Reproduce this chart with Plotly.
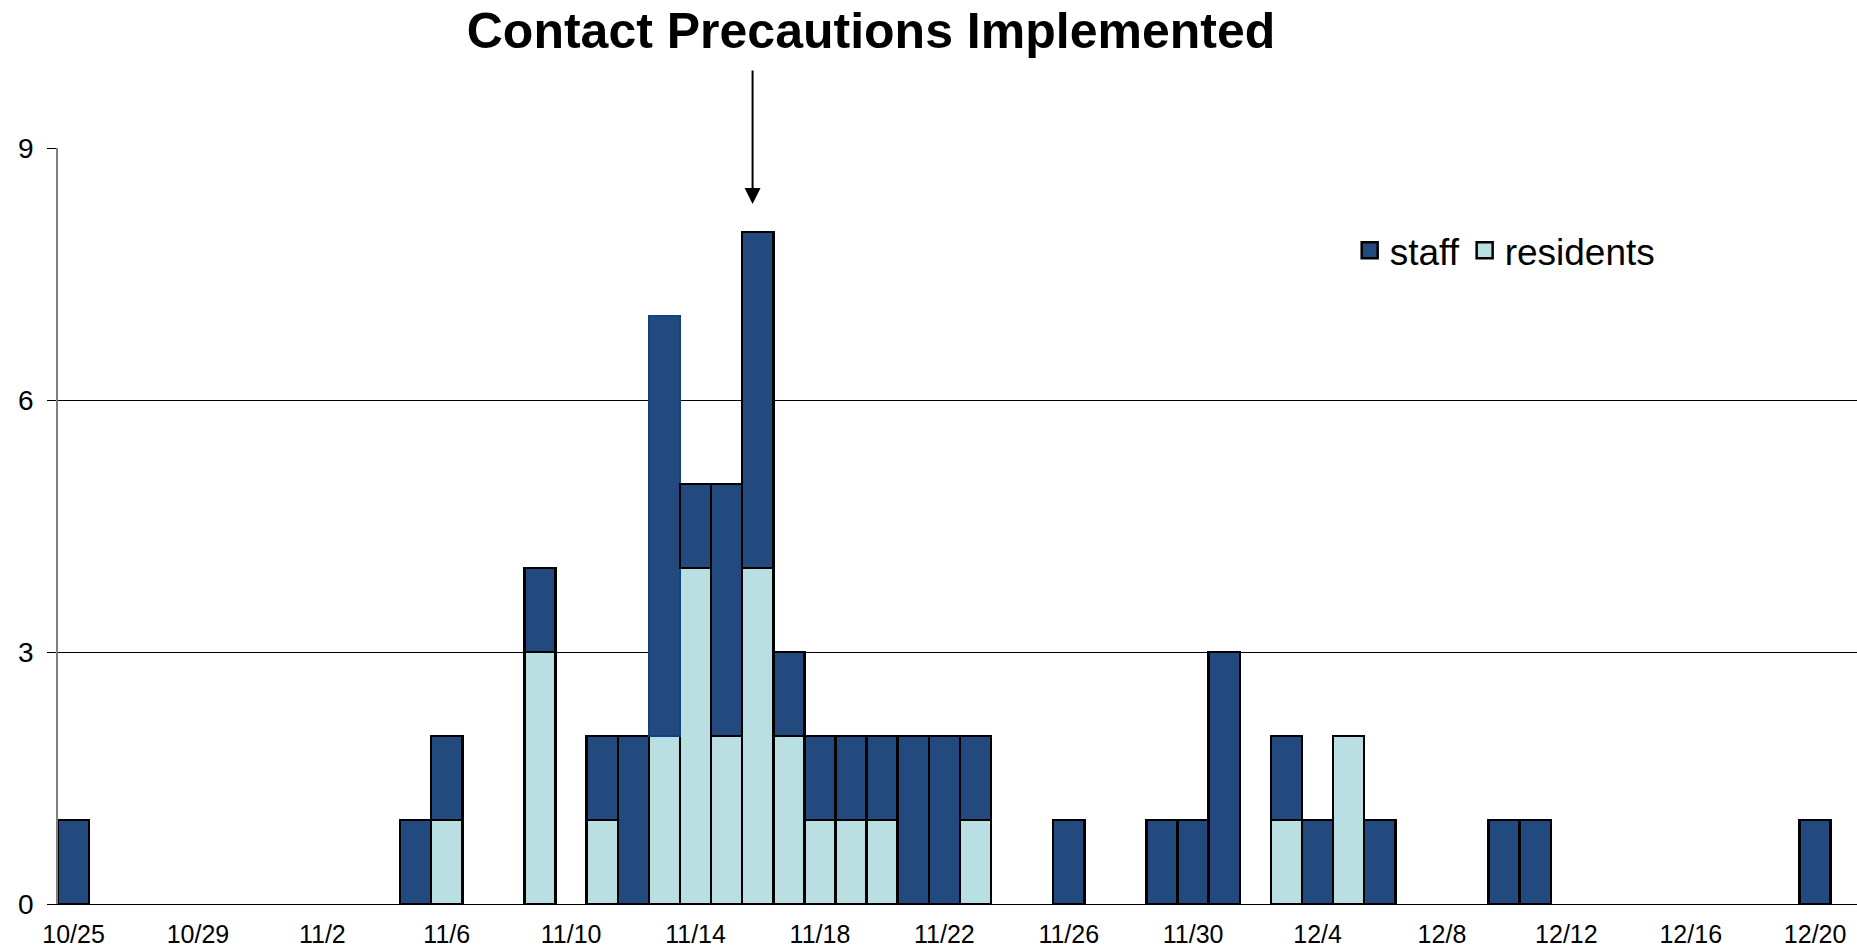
import pandas as pd
import plotly.graph_objects as go

# ---- data ----
dates = ["10/25", "11/5", "11/6", "11/9", "11/11", "11/12", "11/13", "11/14",
         "11/15", "11/16", "11/17", "11/18", "11/19", "11/20", "11/21", "11/22",
         "11/23", "11/26", "11/29", "11/30", "12/1", "12/3", "12/4", "12/5",
         "12/6", "12/10", "12/11", "12/20"]
residents = [0, 0, 1, 3, 1, 0, 2, 4, 2, 4, 2, 1, 1, 1, 0, 0, 1, 0, 0, 0, 0,
             1, 0, 2, 0, 0, 0, 0]
staff = [1, 1, 1, 1, 1, 2, 5, 1, 3, 4, 1, 1, 1, 1, 2, 2, 1, 1, 1, 1, 3,
         1, 1, 0, 1, 1, 1, 1]
y_ticks = [0, 3, 6, 9]
title_text = "Contact Precautions Implemented"
precaution_day = "11/16"
year = "2009"

x = pd.to_datetime([year + "/" + d for d in dates])
DAY_MS = 86400000

STAFF_C = "#234A7E"
RES_C = "#B9DFE2"
FONT = "Arial"

res_plot = [v if v else None for v in residents]
staff_plot = [v if v else None for v in staff]
staff_line = ["#0F4386" if d == "11/13" else "black" for d in dates]

fig = go.Figure()
fig.add_trace(go.Bar(x=x, y=res_plot, name="residents", width=DAY_MS,
                     marker=dict(color=RES_C, line=dict(color="black", width=2.5)),
                     showlegend=False, legendgroup="residents"))
fig.add_trace(go.Bar(x=x, y=staff_plot, name="staff", width=DAY_MS,
                     marker=dict(color=STAFF_C, line=dict(color=staff_line, width=2.5)),
                     showlegend=False, legendgroup="staff"))
# legend entries (larger square symbols)
fig.add_trace(go.Scatter(x=[None], y=[None], mode="markers", name="staff",
                         legendgroup="staff",
                         marker=dict(symbol="square", size=16, color=STAFF_C,
                                     line=dict(color="black", width=2.5))))
fig.add_trace(go.Scatter(x=[None], y=[None], mode="markers", name="residents",
                         legendgroup="residents",
                         marker=dict(symbol="square", size=16, color=RES_C,
                                     line=dict(color="black", width=2.5))))

W, H = 1857, 950
L, R, T, B = 58, 0, 148, 46
px_per_day = 31.1
start = pd.Timestamp(year + "/10/25") - pd.Timedelta(hours=12)
end = start + pd.Timedelta(days=(W - L - R) / px_per_day)

arrow_x = pd.Timestamp(year + "/" + precaution_day) - pd.Timedelta(hours=4)

fig.update_layout(
    width=W, height=H,
    margin=dict(l=L, r=R, t=T, b=B),
    paper_bgcolor="white", plot_bgcolor="white",
    barmode="stack",
    font=dict(family=FONT, color="black"),
    title=dict(text="<b>" + title_text + "</b>", font=dict(size=50, family=FONT, color="black"),
               x=871 / W, xanchor="center", xref="container",
               y=1 - 30 / H, yanchor="middle", yref="container"),
    legend=dict(orientation="h", x=0.718, y=0.905, xanchor="left", yanchor="top",
                font=dict(size=37, family=FONT), bgcolor="rgba(0,0,0,0)",
                itemwidth=30, tracegroupgap=0),
    xaxis=dict(type="date", range=[start, end], tick0=year + "-10-25", dtick=4 * DAY_MS,
               tickformat="%-m/%-d", ticks="", showgrid=False, zeroline=False,
               showline=True, linecolor="black", linewidth=1,
               tickfont=dict(size=25, family=FONT), ticklabelstandoff=8,
               automargin=False),
    yaxis=dict(range=[0, 9], tickvals=y_ticks, showgrid=True, gridcolor="black",
               gridwidth=1, zeroline=False, ticks="outside", ticklen=9,
               tickcolor="black", tickwidth=1, showline=True, linecolor="#808080",
               linewidth=1.5, tickfont=dict(size=28, family=FONT),
               ticklabelstandoff=8, automargin=False),
    annotations=[dict(x=arrow_x, y=8.333, xref="x", yref="y", text="",
                      showarrow=True, ax=0, ay=-135, axref="pixel", ayref="pixel",
                      arrowhead=2, arrowsize=1.6, arrowwidth=2, arrowcolor="black")],
)

fig.write_html("out.html", config={"displayModeBar": False},
               post_script="document.body.style.margin='0';document.body.style.overflow='hidden';")
